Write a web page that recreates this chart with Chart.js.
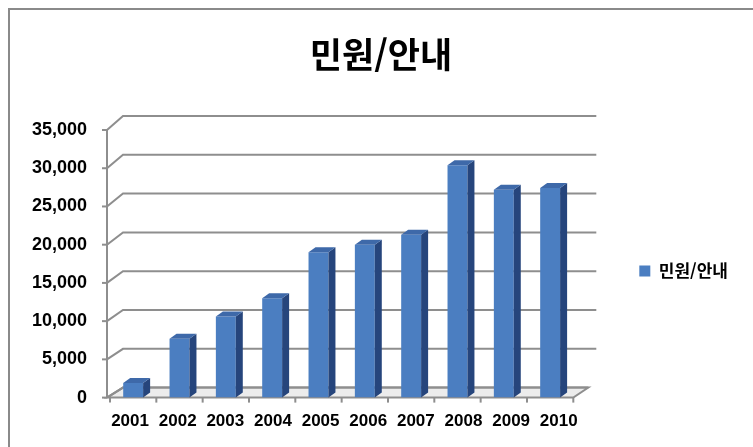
<!DOCTYPE html>
<html lang="ko">
<head>
<meta charset="utf-8">
<title>민원/안내</title>
<script src="https://cdn.jsdelivr.net/npm/chart.js@4.4.1/dist/chart.umd.min.js"></script>
<style>
  html, body { margin: 0; padding: 0; background: #fff; }
  canvas { display: block; }
</style>
</head>
<body>
<canvas id="chart" width="753" height="447"></canvas>
<script>
// 연도별 민원/안내 건수
const years = ['2001', '2002', '2003', '2004', '2005', '2006', '2007', '2008', '2009', '2010'];
const counts = [1900, 7700, 10600, 13000, 19000, 20000, 21300, 30400, 27200, 27400];
const seriesName = '민원/안내';
const yMax = 35000;
const yStep = 5000;

// 3D look: bar depth and back wall offset
const BAR_DX = 7, BAR_DY = 5;
const WALL_DX = 16, WALL_DY = 10;
const FRONT = '#4b7ec1', SIDE = '#26457c', TOP = '#3e69a9';
const LINE = '#8e8e8e';

const krFont = 'Noto Sans CJK KR';

// grey frame round the whole chart (right/bottom edges fall outside)
const frame = {
  id: 'frame',
  beforeDraw(chart) {
    const ctx = chart.ctx;
    ctx.save();
    ctx.fillStyle = '#fff';
    ctx.fillRect(0, 0, chart.width, chart.height);
    ctx.strokeStyle = '#8a8a8a';
    ctx.lineWidth = 2;
    ctx.strokeRect(9, 9, chart.width + 20, chart.height + 20);
    ctx.restore();
  }
};

// back wall gridlines, floor and the value axis
const walls = {
  id: 'walls',
  beforeDatasetsDraw(chart) {
    const { ctx, chartArea, scales } = chart;
    const y = scales.y;
    const axisX = chartArea.left - 3;
    const wallRight = chartArea.right + 23;
    const backY = py => py - WALL_DY - (chartArea.bottom - py) * 0.015;

    ctx.save();
    ctx.strokeStyle = LINE;
    ctx.lineWidth = 2;

    // floor
    const fb = backY(chartArea.bottom);
    ctx.beginPath();
    ctx.moveTo(axisX, chartArea.bottom);
    ctx.lineTo(chartArea.right, chartArea.bottom);
    ctx.lineTo(wallRight - 8, fb);
    ctx.lineTo(axisX + WALL_DX, fb);
    ctx.closePath();
    ctx.fillStyle = '#ececec';
    ctx.fill();
    ctx.stroke();

    // gridlines on the back wall
    y.ticks.forEach(t => {
      const py = y.getPixelForValue(t.value);
      const by = backY(py);
      ctx.beginPath();
      ctx.moveTo(axisX, py);
      ctx.lineTo(axisX + WALL_DX, by);
      ctx.lineTo(t.value === 0 ? wallRight - 8 : wallRight, by);
      ctx.stroke();
      // tick mark
      ctx.beginPath();
      ctx.moveTo(axisX - 5, py);
      ctx.lineTo(axisX, py);
      ctx.stroke();
    });

    // value axis line
    ctx.beginPath();
    ctx.moveTo(axisX, chartArea.top);
    ctx.lineTo(axisX, chartArea.bottom);
    ctx.stroke();

    // category ticks under the floor edge
    const band = (chartArea.right - chartArea.left) / years.length;
    for (let i = 0; i <= years.length; i++) {
      const px = chartArea.left + i * band;
      ctx.beginPath();
      ctx.moveTo(px, chartArea.bottom);
      ctx.lineTo(px, chartArea.bottom + 5);
      ctx.stroke();
    }
    ctx.restore();
  }
};

// side and top faces of each column
const barDepth = {
  id: 'barDepth',
  afterDatasetsDraw(chart) {
    const ctx = chart.ctx;
    ctx.save();
    chart.getDatasetMeta(0).data.forEach(bar => {
      const { x, y, base, width } = bar.getProps(['x', 'y', 'base', 'width'], true);
      const l = x - width / 2, r = x + width / 2;
      ctx.fillStyle = SIDE;
      ctx.beginPath();
      ctx.moveTo(r, y);
      ctx.lineTo(r + BAR_DX, y - BAR_DY);
      ctx.lineTo(r + BAR_DX, base - BAR_DY);
      ctx.lineTo(r, base);
      ctx.closePath();
      ctx.fill();
      ctx.fillStyle = TOP;
      ctx.beginPath();
      ctx.moveTo(l, y);
      ctx.lineTo(l + BAR_DX, y - BAR_DY);
      ctx.lineTo(r + BAR_DX, y - BAR_DY);
      ctx.lineTo(r, y);
      ctx.closePath();
      ctx.fill();
    });
    ctx.restore();
  }
};

// title sits a little right of centre, legend out past the back wall
const blockOffsets = {
  id: 'blockOffsets',
  afterLayout(chart) {
    const t = chart.titleBlock;
    t.left += 24;
    t.right += 24;
    const lg = chart.legend;
    lg.left += 56;
    lg.right += 56;
    lg.top += 48;
    lg.bottom += 48;
  }
};

new Chart(document.getElementById('chart'), {
  type: 'bar',
  data: {
    labels: years,
    datasets: [{
      label: seriesName,
      data: counts,
      backgroundColor: FRONT,
      xAxisID: 'x',
      yAxisID: 'y',
      barPercentage: 0.43,
      categoryPercentage: 1.0
    }]
  },
  options: {
    responsive: false,
    animation: false,
    events: [],
    layout: { padding: { left: 32, right: 71, top: 0, bottom: 1 } },
    scales: {
      x: { display: false, offset: true },
      // year labels sit on their own axis, a little wider spaced than the columns
      years: {
        type: 'linear',
        position: 'bottom',
        bounds: 'data',
        offset: false,
        min: -0.421,
        max: 9.305,
        grid: { display: false, drawTicks: false },
        border: { display: false },
        afterBuildTicks(scale) {
          scale.ticks = years.map((_, i) => ({ value: i }));
        },
        afterFit(scale) {
          scale.paddingLeft = 0;
          scale.paddingRight = 0;
        },
        ticks: {
          autoSkip: false,
          maxRotation: 0,
          padding: 14,
          color: '#000',
          font: { family: 'Liberation Sans', size: 17, weight: 'bold' },
          callback: v => years[v] ?? ''
        }
      },
      y: {
        min: 0,
        max: yMax,
        grid: { display: false, drawTicks: false },
        border: { display: false },
        afterFit(scale) {
          scale.width = 78;
        },
        ticks: {
          stepSize: yStep,
          padding: 23,
          color: '#000',
          font: { family: 'Liberation Sans', size: 18, weight: 'bold' },
          callback: v => v.toLocaleString('en-US')
        }
      }
    },
    plugins: {
      title: {
        display: true,
        text: seriesName,
        color: '#000',
        font: { family: krFont, size: 35, weight: 'bold', lineHeight: 1.2 },
        padding: { top: 34, bottom: 54 }
      },
      legend: {
        position: 'right',
        labels: {
          boxWidth: 11,
          boxHeight: 11,
          color: '#000',
          font: { family: krFont, size: 17, weight: 'bold' }
        }
      },
      tooltip: { enabled: false }
    }
  },
  plugins: [frame, walls, barDepth, blockOffsets]
});
</script>
</body>
</html>
